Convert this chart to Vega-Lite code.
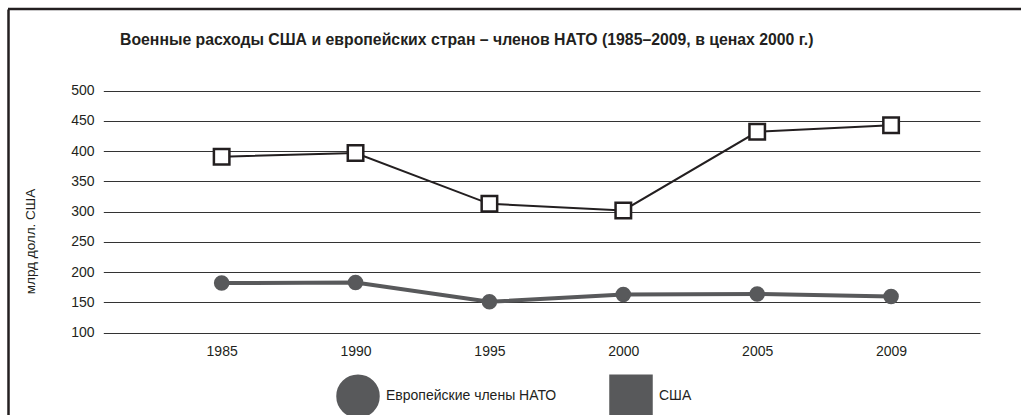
{
  "$schema": "https://vega.github.io/schema/vega-lite/v6.json",
  "width": 1013,
  "height": 406,
  "autosize": {"type": "none"},
  "padding": {"left": 8, "top": 9, "right": 0, "bottom": 0},
  "background": "white",
  "title": {
    "text": "Военные расходы США и европейских стран – членов НАТО (1985–2009, в ценах 2000 г.)",
    "anchor": "start",
    "frame": "group",
    "orient": "top",
    "offset": -48,
    "baseline": "middle",
    "dx": 112,
    "font": "Liberation Sans",
    "fontSize": 15.8,
    "fontWeight": "bold",
    "color": "#231f20"
  },
  "data": {
    "values": [
      {"year": "1985", "series": "Европейские члены НАТО", "value": 182},
      {"year": "1990", "series": "Европейские члены НАТО", "value": 183},
      {"year": "1995", "series": "Европейские члены НАТО", "value": 151},
      {"year": "2000", "series": "Европейские члены НАТО", "value": 163},
      {"year": "2005", "series": "Европейские члены НАТО", "value": 164},
      {"year": "2009", "series": "Европейские члены НАТО", "value": 160},
      {"year": "1985", "series": "США", "value": 391},
      {"year": "1990", "series": "США", "value": 397},
      {"year": "1995", "series": "США", "value": 313},
      {"year": "2000", "series": "США", "value": 302},
      {"year": "2005", "series": "США", "value": 432},
      {"year": "2009", "series": "США", "value": 443}
    ]
  },
  "encoding": {
    "y": {
      "field": "value",
      "type": "quantitative",
      "title": "млрд долл. США",
      "scale": {"domain": [-36, 635], "nice": false, "zero": false},
      "axis": {
        "title": "млрд долл. США",
        "values": [100, 150, 200, 250, 300, 350, 400, 450, 500],
        "offset": 0,
        "domain": true,
        "domainColor": "#231f20",
        "domainWidth": 2.5,
        "ticks": false,
        "tickSize": 0,
        "grid": true,
        "gridColor": "#333333",
        "gridWidth": 1,
        "labelPadding": -86,
        "labelFont": "Liberation Sans",
        "labelFontSize": 14,
        "labelColor": "#231f20",
        "titleFont": "Liberation Sans",
        "titleFontSize": 13.5,
        "titleFontWeight": "normal",
        "titleColor": "#231f20",
        "titleX": 22,
        "titleY": 232,
        "titleBaseline": "middle"
      }
    }
  },
  "layer": [
    {
      "data": {"values": [{"edge": "top", "value": 635}]},
      "mark": {"type": "rule", "color": "#231f20", "strokeWidth": 2.5, "clip": false},
      "encoding": {
        "y": {"field": "value", "type": "quantitative", "title": "млрд долл. США"}
      }
    },
    {
      "mark": {"type": "line"},
      "encoding": {
        "x": {
          "field": "year",
          "type": "ordinal",
          "scale": {"type": "point", "range": [95.3, 972], "padding": 0.774, "align": 0.571},
          "axis": {
            "title": null,
            "orient": "bottom",
            "offset": -82.3,
            "domain": false,
            "ticks": false,
            "grid": false,
            "labelAngle": 0,
            "labelPadding": 12,
            "labelFont": "Liberation Sans",
            "labelFontSize": 14,
            "labelColor": "#231f20"
          }
        },
        "detail": {"field": "series", "type": "nominal"},
        "stroke": {
          "condition": {"test": "datum.series === 'США'", "value": "#231f20"},
          "value": "#58595b"
        },
        "strokeWidth": {
          "field": "series",
          "type": "nominal",
          "scale": {"range": [4, 2]},
          "legend": null
        }
      }
    },
    {
      "mark": {"type": "point", "filled": false, "opacity": 1, "strokeWidth": 2.5},
      "encoding": {
        "x": {"field": "year", "type": "ordinal"},
        "stroke": {
          "condition": {"test": "datum.series === 'США'", "value": "#231f20"},
          "value": "#58595b"
        },
        "fill": {
          "condition": {"test": "datum.series === 'США'", "value": "#ffffff"},
          "value": "#58595b"
        },
        "shape": {
          "field": "series",
          "type": "nominal",
          "scale": {"domain": ["Европейские члены НАТО", "США"], "range": ["circle", "square"]},
          "legend": {
            "orient": "none",
            "legendX": 328,
            "legendY": 365,
            "direction": "horizontal",
            "title": null,
            "padding": 0,
            "symbolSize": 1681,
            "labelOffset": 6,
            "columnPadding": 48,
            "labelLimit": 400,
            "labelFont": "Liberation Sans",
            "labelFontSize": 14,
            "labelColor": "#231f20",
            "symbolStrokeWidth": 2.5,
            "symbolOpacity": 1,
            "encode": {
              "symbols": {
                "shape": {"value": {"expr": "datum.value === 'США' ? 'M-1,0L-0.378,0M0.378,0L1,0M-0.378,-0.378L0.378,-0.378L0.378,0.378L-0.378,0.378Z' : 'M-1,0L1,0M-0.317,0A0.317,0.317 0 1,1 0.317,0A0.317,0.317 0 1,1 -0.317,0Z'"}},
                "fill": {"value": {"expr": "datum.value === 'США' ? '#ffffff' : '#58595b'"}},
                "stroke": {"value": {"expr": "datum.value === 'США' ? '#231f20' : '#58595b'"}},
                "strokeWidth": {"value": {"expr": "datum.value === 'США' ? 2.5 : 4"}},
                "opacity": {"value": 1}
              }
            }
          }
        },
        "size": {
          "field": "series",
          "type": "nominal",
          "scale": {"range": [170, 240]},
          "legend": null
        }
      }
    }
  ],
  "config": {
    "view": {"stroke": null},
    "font": "Liberation Sans"
  }
}
